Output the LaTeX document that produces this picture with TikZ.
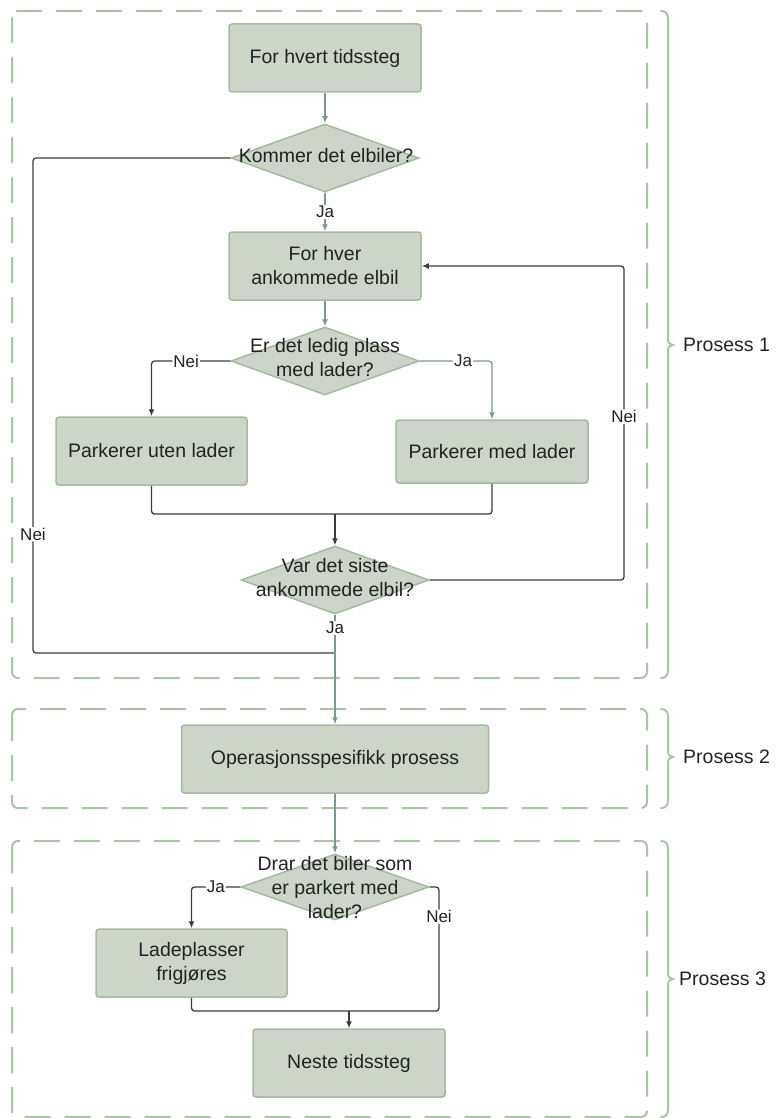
\documentclass[tikz,border=0pt]{standalone}
\usepackage{fontspec}
\setmainfont{Liberation Sans}
\usetikzlibrary{arrows.meta,shapes.geometric}
\definecolor{boxfill}{HTML}{CCD5C8}
\definecolor{boxline}{HTML}{A2BB9E}
\definecolor{frameline}{HTML}{A9C5A5}
\definecolor{flowline}{HTML}{7A9A8E}
\definecolor{loopline}{HTML}{3C3C3C}
\definecolor{txt}{HTML}{222222}
\newcommand{\mainfnt}{\fontsize{19.5}{24}\selectfont}
\newcommand{\lblfnt}{\fontsize{17}{20}\selectfont}
\begin{document}
\begin{tikzpicture}[x=1pt,y=-1pt,
  stepbox/.style={draw=boxline, fill=boxfill, line width=1.5pt, rounded corners=3pt,
    minimum width=#1, minimum height=68pt, inner sep=0pt, align=center, text=txt, font=\mainfnt},
  stepbox/.default=192pt,
  decision/.style={diamond, draw=boxline, fill=boxfill, line width=1.5pt,
    minimum width=188pt, minimum height=68pt, inner sep=0pt},
  dtext/.style={align=center, text=txt, font=\mainfnt, inner sep=0pt},
  flow/.style={draw=flowline, line width=1.3pt, -{Latex[length=7pt,width=6pt]}},
  loopl/.style={draw=loopline, line width=1.3pt, rounded corners=3pt},
  looparrow/.style={loopl, -{Latex[length=7pt,width=6pt]}},
  lbl/.style={fill=white, inner sep=1pt, text=txt, font=\lblfnt},
  frame/.style={draw=frameline, line width=2pt, dash pattern=on 26pt off 14pt, rounded corners=6pt},
  bracel/.style={draw=frameline, line width=2pt, line cap=round},
  proslabel/.style={anchor=west, text=txt, font=\mainfnt, inner sep=0pt}]
\useasboundingbox (0,0) rectangle (776,1118);

% process frames
\draw[frame] (12,11) rectangle (647,678);
\draw[frame] (12,709) rectangle (647,808);
\draw[frame] (12,841) rectangle (647,1117);

% braces with their process labels
\newcommand{\prosbrace}[3]{%
  \draw[bracel] (661,#1) .. controls (666,#1) and (668,{#1+3}) .. (668,{#1+8})
    -- (668,{#2-6}) .. controls (668,{#2-2}) and (670,#2) .. (673,#2)
    .. controls (670,#2) and (668,{#2+2}) .. (668,{#2+6})
    -- (668,{#3-8}) .. controls (668,{#3-3}) and (666,#3) .. (661,#3);}
\prosbrace{11}{345}{678}
\prosbrace{709}{757}{808}
\prosbrace{841}{979}{1117}
\node[proslabel] (p1) at (683,345) {Prosess 1};
\node[proslabel] (p2) at (683,757) {Prosess 2};
\node[proslabel] (p3) at (679,979) {Prosess 3};

% process 1
\node[stepbox] (n1) at (325,58) {For hvert tidssteg};
\node[decision] (d1) at (325,158) {};
\node[dtext] (t1) at (326,156) {Kommer det elbiler?};
\node[stepbox] (n2) at (325,266) {For hver\\ankommede elbil};
\node[decision] (d2) at (325,361) {};
\node[dtext] (t2) at (325,358) {Er det ledig plass\\med lader?};
\node[stepbox=191pt] (n3) at (151.5,451) {Parkerer uten lader};
\node[stepbox, minimum height=63pt] (n4) at (492,451.5) {Parkerer med lader};
\node[decision] (d3) at (335,580) {};
\node[dtext] (t3) at (335,578) {Var det siste\\ankommede elbil?};

% process 2
\node[stepbox=307pt] (n5) at (335,759) {Operasjonsspesifikk prosess};

% process 3
\node[decision, minimum height=66pt] (d4) at (335,887) {};
\node[dtext] (t4) at (335,888) {Drar det biler som\\er parkert med\\lader?};
\node[stepbox=191pt] (n6) at (191.5,963) {Ladeplasser\\frigjøres};
\node[stepbox] (n7) at (349,1063) {Neste tidssteg};

% junction points
\coordinate (m1) at (335,514);
\coordinate (lx) at (33,653);
\coordinate (jn) at (335,653);
\coordinate (rx) at (624,0);
\coordinate (nx) at (439,1011);
\coordinate (m2) at (349,1011);

% connectors
\draw[flow] (n1.south) -- (d1.north);
\draw[flow] (d1.south) -- node[lbl] {Ja} (n2.north);
\draw[flow] (n2.south) -- (d2.north);
\draw[looparrow] (d2.west) -| node[lbl, pos=0.28] {Nei} (n3.north);
\draw[flow, rounded corners=3pt] (d2.east) -| node[lbl, pos=0.3] {Ja} (n4.north);
\draw[loopl] (n3.south) |- (m1) -| (n4.south);
\draw[looparrow] (m1) -- (d3.north);
\draw[looparrow] (d3.east) -| node[lbl, pos=0.76] {Nei} (rx |- n2.east) -- (n2.east);
\draw[loopl] (d1.west) -| node[lbl, pos=0.88] {Nei} (lx) -- (jn);
\draw[flow] (d3.south) -- node[lbl, pos=0.12] {Ja} (n5.north);
\draw[flow] (n5.south) -- (d4.north);
\draw[looparrow] (d4.west) -| node[lbl, pos=0.25] {Ja} (n6.north);
\draw[loopl] (d4.east) -| node[lbl, pos=0.62] {Nei} (nx) -- (m2);
\draw[loopl] (n6.south) |- (m2);
\draw[looparrow] (m2) -- (n7.north);
\end{tikzpicture}
\end{document}
